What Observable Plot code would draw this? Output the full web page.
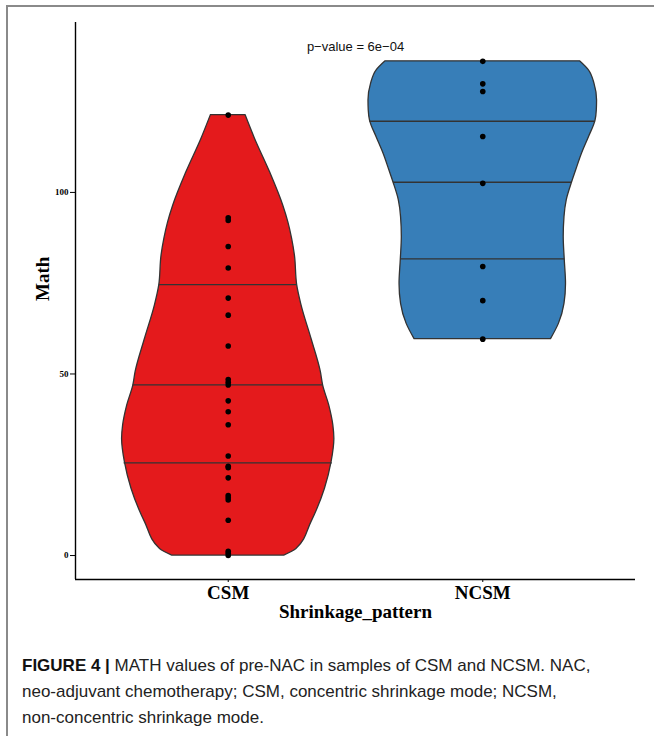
<!DOCTYPE html>
<html>
<head>
<meta charset="utf-8">
<script src="https://cdn.jsdelivr.net/npm/d3@7"></script>
<script src="https://cdn.jsdelivr.net/npm/@observablehq/plot@0.6"></script>
<style>
  html, body { margin: 0; padding: 0; background: #fff; }
  body { width: 654px; height: 736px; position: relative; overflow: hidden; }
  #frame { position: absolute; left: 6px; top: 5px; width: 700px; height: 800px;
           border-top: 2px solid #8a8a8a; border-left: 2px solid #8a8a8a; box-sizing: border-box; }
  #chart { position: absolute; left: 0; top: 0; }
  #caption { position: absolute; left: 22px; top: 653px; font-family: "Liberation Sans", Arial, sans-serif;
             font-size: 17px; line-height: 26px; color: #222; white-space: nowrap; }
  #caption b { font-weight: bold; color: #111; }
</style>
</head>
<body>
<div id="frame"></div>
<div id="chart"></div>
<div id="caption"><b>FIGURE 4 |</b> MATH values of pre-NAC in samples of CSM and NCSM. NAC,<br>neo-adjuvant chemotherapy; CSM, concentric shrinkage mode; NCSM,<br>non-concentric shrinkage mode.</div>
<script>
// ---- data ----
const categories = ["CSM", "NCSM"];
const csmValues = [121.3, 93.0, 92.3, 85.1, 79.2, 70.9, 66.2, 57.7, 48.5, 47.7, 47.0, 42.6, 39.6, 36.0,
                   27.4, 24.6, 24.2, 21.4, 16.5, 15.9, 15.3, 9.7, 1.2, 0.6, 0];
const ncsmValues = [136.1, 129.9, 127.8, 115.4, 102.5, 79.6, 70.2, 59.6];

// violin outline: value and half-width (in category units)
const csmProfileY  = [0, 1.8, 9.2, 18.4, 25.7, 32.1, 35.8, 41.3, 46.8, 50.5, 59.7, 68.9, 74.4, 82.6, 87.2, 91.8, 96.4, 105.6, 114.8, 121.3];
const csmProfileHW = [0.220, 0.268, 0.327, 0.380, 0.406, 0.417, 0.413, 0.397, 0.373, 0.364, 0.327, 0.288, 0.271, 0.262, 0.251, 0.236, 0.216, 0.164, 0.105, 0.068];
const ncsmProfileY  = [59.6, 63.8, 69.3, 74.8, 81.5, 87.7, 93.2, 97.9, 102.8, 106.1, 110.7, 115.2, 119.8, 122.6, 125.3, 129.9, 133.6, 136.1];
const ncsmProfileHW = [0.268, 0.299, 0.321, 0.327, 0.322, 0.318, 0.321, 0.330, 0.351, 0.367, 0.390, 0.417, 0.443, 0.448, 0.449, 0.439, 0.417, 0.382];

// quantile lines (25%, 50%, 75%) and their half-widths
const csmQuantiles  = [25.5, 47.0, 74.6];
const csmQuantileHW = [0.409, 0.373, 0.271];
const ncsmQuantiles  = [81.7, 102.8, 119.6];
const ncsmQuantileHW = [0.322, 0.351, 0.443];

const yTicks = [0, 50, 100];
const yDomain = [-6.6, 146.8];
const pValueLabel = "p\u2212value = 6e\u221204";
const pValueY = 140;
const fills = ["#E41A1C", "#377EB8"];

// ---- build tables ----
const profiles = [
  csmProfileY.map((y, i) => ({cat: 1, y, hw: csmProfileHW[i]})),
  ncsmProfileY.map((y, i) => ({cat: 2, y, hw: ncsmProfileHW[i]}))
];
const quantiles = [
  ...csmQuantiles.map((y, i) => ({cat: 1, y, hw: csmQuantileHW[i]})),
  ...ncsmQuantiles.map((y, i) => ({cat: 2, y, hw: ncsmQuantileHW[i]}))
];
const points = [
  ...csmValues.map(v => ({cat: 1, v})),
  ...ncsmValues.map(v => ({cat: 2, v}))
];

const xDomain = [0.4, categories.length + 0.6];
const outline = "#333333";

const chart = Plot.plot({
  width: 654,
  height: 625,
  marginTop: 22,
  marginBottom: 46,
  marginLeft: 75,
  marginRight: 19,
  x: {type: "linear", domain: xDomain},
  y: {domain: yDomain},
  style: {fontFamily: "'Liberation Serif', 'Times New Roman', serif", background: "transparent", color: "#000"},
  marks: [
    ...profiles.map((p, k) => Plot.areaX(p, {
      y: "y", x1: d => d.cat - d.hw, x2: d => d.cat + d.hw,
      curve: "monotone-y", fill: fills[k], stroke: outline, strokeWidth: 1.3
    })),
    Plot.ruleY(quantiles, {y: "y", x1: d => d.cat - d.hw, x2: d => d.cat + d.hw, stroke: outline, strokeWidth: 1.3}),
    Plot.dot(points, {x: "cat", y: "v", r: 2.8, fill: "#000", stroke: "none"}),
    Plot.text([pValueLabel], {x: () => (1 + categories.length) / 2, y: () => pValueY,
      fontFamily: "'Liberation Sans', Arial, sans-serif", fontSize: 13, fill: "#111", textAnchor: "middle"}),
    Plot.axisY({ticks: yTicks, tickSize: 5, tickPadding: 2, fontSize: 9, fontWeight: "bold", label: null}),
    Plot.axisX({ticks: categories.map((c, i) => i + 1), tickFormat: d => categories[d - 1],
      tickSize: 3, tickPadding: 3, fontSize: 19, fontWeight: "bold", label: null}),
    Plot.ruleX([xDomain[0]], {stroke: "#000", strokeWidth: 1.4}),
    Plot.ruleY([yDomain[0]], {stroke: "#000", strokeWidth: 1.4}),
    Plot.text(["Math"], {frameAnchor: "left", dx: -33, rotate: -90, fontSize: 19, fontWeight: "bold"}),
    Plot.text(["Shrinkage_pattern"], {frameAnchor: "bottom", dy: 38, fontSize: 19, fontWeight: "bold"})
  ]
});
document.getElementById("chart").appendChild(chart);
</script>
</body>
</html>
